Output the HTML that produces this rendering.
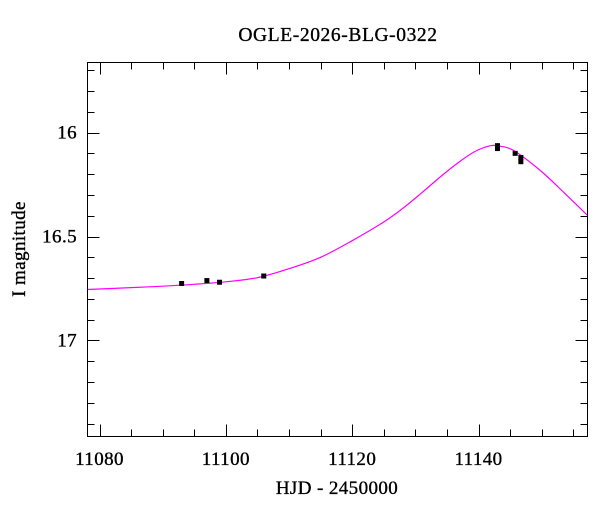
<!DOCTYPE html>
<html><head><meta charset="utf-8"><style>
body{margin:0;background:#fff}
svg text{font-family:"Liberation Serif",serif;fill:#000;stroke:#000;stroke-width:0.35}
</style></head><body>
<svg id="chart" width="600" height="512">
<text x="338" y="41" font-size="19.5" letter-spacing="0.6" text-anchor="middle">OGLE-2026-BLG-0322</text>
<text x="337" y="494" font-size="19" letter-spacing="0.4" text-anchor="middle">HJD - 2450000</text>
<text transform="translate(25,249) rotate(-90)" font-size="19" letter-spacing="0.4" text-anchor="middle">I magnitude</text>
<g id="axes"></g>
<g id="marks"></g>
<rect x="87.5" y="62.5" width="500" height="374" fill="none" stroke="#000" stroke-width="1"/>
</svg>
<script>
const xTicks=[11080,11100,11120,11140];
const yTicks=[16,16.5,17];
const modelT=[11078,11085,11090,11095,11100,11105,11110,11115,11120,11125,11128,11131,11134,11137,11139.5,11141.9,11143.5,11145.6,11149.8,11153.5,11157.3];
const modelMag=[16.755,16.746,16.739,16.730,16.718,16.698,16.655,16.600,16.520,16.430,16.365,16.290,16.212,16.140,16.090,16.063,16.066,16.087,16.183,16.288,16.40];
const obsT=[11093,11097,11099,11106,11143,11143,11145.8,11146.7,11146.7];
const obsMag=[16.726,16.712,16.72,16.69,16.063,16.077,16.10,16.12,16.14];
const obsErr=[0.012,0.01,0.01,0.01,0.012,0.01,0.01,0.012,0.012];

const L=87.5,R=587.5,T=62.5,B=436.5;
const xMin=11078.1,xMax=11157.25,yMin=15.663,yMax=17.462;
const sx=v=>L+(v-xMin)/(xMax-xMin)*(R-L);
const sy=v=>T+(v-yMin)/(yMax-yMin)*(B-T);
const NS='http://www.w3.org/2000/svg';
const axes=document.getElementById('axes'),marks=document.getElementById('marks');
function mk(tag,attrs,parent){const e=document.createElementNS(NS,tag);for(const k in attrs)e.setAttribute(k,attrs[k]);parent.appendChild(e);return e;}
for(let v=11080;v<=xMax;v+=5){
  const major=(v%20===0);const len=major?12:7;const x=Math.round(sx(v))+0.5;
  const t1=mk('line',{x1:x,x2:x,y1:B,y2:B-len,stroke:'#000'},axes);
  
  
  const t2=mk('line',{x1:x,x2:x,y1:T,y2:T+len,stroke:'#000'},axes);
  
  
}
xTicks.forEach(v=>{const t=mk('text',{x:sx(v),y:465,'font-size':19,'letter-spacing':0.4,'text-anchor':'middle'},axes);t.textContent=v;
  
  });
for(let i=Math.ceil(yMin*10);i<=yMax*10;i++){
  const v=i/10;const major=(i%5===0);const len=major?12:7;const y=Math.round(sy(v))+0.5;
  const t1=mk('line',{x1:L,x2:L+len,y1:y,y2:y,stroke:'#000'},axes);
  
  
  const t2=mk('line',{x1:R,x2:R-len,y1:y,y2:y,stroke:'#000'},axes);
  
  
}
yTicks.forEach(v=>{const t=mk('text',{x:77,y:sy(v)+6,'font-size':19,'letter-spacing':0.4,'text-anchor':'end'},axes);t.textContent=v;
  
  });
const pts=modelT.map((t,i)=>[sx(t),sy(modelMag[i])]);
let d='M'+pts[0][0]+','+pts[0][1];
for(let i=0;i<pts.length-1;i++){
  const p0=pts[Math.max(0,i-1)],p1=pts[i],p2=pts[i+1],p3=pts[Math.min(pts.length-1,i+2)];
  const c1=[p1[0]+(p2[0]-p0[0])/6,p1[1]+(p2[1]-p0[1])/6],c2=[p2[0]-(p3[0]-p1[0])/6,p2[1]-(p3[1]-p1[1])/6];
  d+=' C'+c1+' '+c2+' '+p2;
}
const path=mk('path',{d:d,fill:'none',stroke:'#ff00ff','stroke-width':1.2},marks);


obsT.forEach((t,i)=>{
  const x=sx(t),y=sy(obsMag[i]);
  const e=mk('line',{x1:x,x2:x,y1:sy(obsMag[i]-obsErr[i]),y2:sy(obsMag[i]+obsErr[i]),stroke:'#000','stroke-width':1},marks);
  
  
  const r=mk('rect',{x:x-2.5,y:y-2.5,width:5,height:5,fill:'#000'},marks);
  
  
});
</script>
</body></html>
